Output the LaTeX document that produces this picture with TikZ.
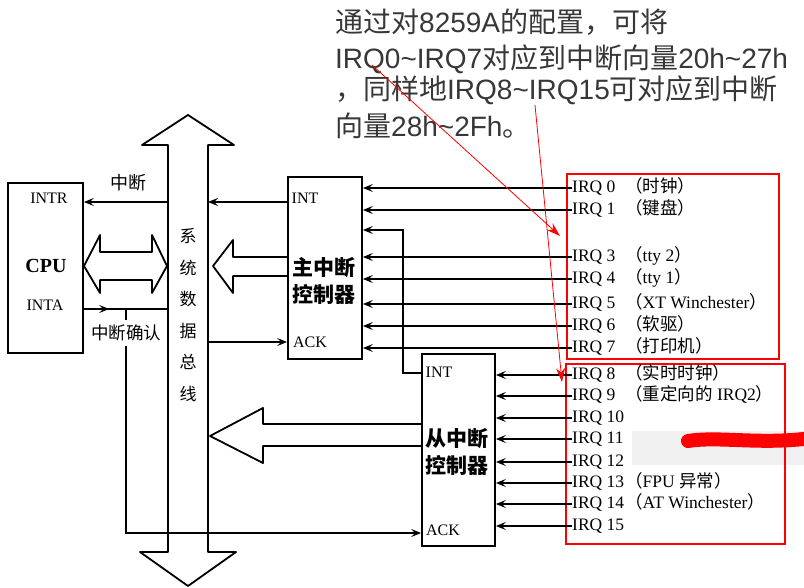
\documentclass[tikz,border=0pt]{standalone}
\usepackage{fontspec}
\usepackage{tikz}
\usepackage{tkz-euclide}
\usetikzlibrary{arrows.meta,decorations.markings}
\setmainfont{Liberation Serif}
\newfontfamily\cjk{Noto Sans CJK SC}
\newfontfamily\arial{Liberation Sans}
\definecolor{notegray}{RGB}{55,55,55}
\newcommand\zlp{{\cjk （}}
\newcommand\zrp{{\cjk ）}}

\begin{document}
\begin{tikzpicture}[x=1pt, y=-1pt,
    box/.style={draw, line width=1.8pt, inner sep=0pt},
    sig/.style={line width=1.2pt, -{Stealth[length=10pt,width=8pt,inset=4pt]}},
    wide/.style={line width=1.8pt},
    lab/.style={font=\fontsize{16}{16}\selectfont, inner sep=1pt},
    irq/.style={font=\fontsize{17.5}{17.5}\selectfont, inner sep=0pt, anchor=west},
    desc/.style={font=\fontsize{17.5}{17.5}\selectfont, inner sep=0pt, anchor=base west},
    hanzi/.style={font=\fontsize{#1}{#1}\cjk, inner sep=1pt},
    title/.style={font=\fontsize{21}{27}\cjk\bfseries, align=center, inner sep=0pt},
    note/.style={font=\fontsize{28}{28}\arial, text=notegray, inner sep=0pt, anchor=base west},
    redbox/.style={draw=red, line width=2pt},
    pointer/.style={red, line width=0.8pt, -{Stealth[length=14pt,width=9pt]}}]
    \useasboundingbox (0,0) rectangle (804,588);
    \clip (0,0) rectangle (804,588);
    \tkzDefPoint(188,115){B1}
    \tkzDefPoint(234,145){B2}
    \tkzDefPoint(208,145){B3}
    \tkzDefPoint(208,552){B4}
    \tkzDefPoint(236,552){B5}
    \tkzDefPoint(188,586){B6}
    \tkzDefPoint(140,552){B7}
    \tkzDefPoint(168,552){B8}
    \tkzDefPoint(168,145){B9}
    \tkzDefPoint(142,145){B10}
    \tkzDefPoint(84,266){C1}
    \tkzDefPoint(100,235){C2}
    \tkzDefPoint(100,252){C3}
    \tkzDefPoint(152,252){C4}
    \tkzDefPoint(152,235){C5}
    \tkzDefPoint(167,266){C6}
    \tkzDefPoint(152,293){C7}
    \tkzDefPoint(152,280){C8}
    \tkzDefPoint(100,280){C9}
    \tkzDefPoint(100,293){C10}
    \tkzDefPoint(213,266){M1}
    \tkzDefPoint(233,240){M2}
    \tkzDefPoint(233,257){M3}
    \tkzDefPoint(288,257){M4}
    \tkzDefPoint(288,276){M5}
    \tkzDefPoint(233,276){M6}
    \tkzDefPoint(233,293){M7}
    \tkzDefPoint(210,436){S1}
    \tkzDefPoint(263,408){S2}
    \tkzDefPoint(263,424){S3}
    \tkzDefPoint(422,424){S4}
    \tkzDefPoint(422,446){S5}
    \tkzDefPoint(263,446){S6}
    \tkzDefPoint(263,463){S7}
    \tkzDefPoint(168,202){intrB}
    \tkzDefPoint(168,309){intaB}
    \tkzDefPoint(126,309){ackT}
    \tkzDefPoint(126,533){ackS}
    \tkzDefPoint(208,202){mintB}
    \tkzDefPoint(208,342){mackB}
    \tkzDefPoint(403,373){bendA}
    \tkzDefPoint(403,230){bendB}
    \tkzDefPoint(625,0){dcol}
    \tkzDefPoint(372,65){P1}
    \tkzDefPoint(560,236){P2}
    \tkzDefPoint(535,105){P3}
    \tkzDefPoint(562,382){P4}
    \fill[gray!12] (632,431) rectangle (804,465);
    \draw[redbox] (567,174) rectangle (779,359);
    \draw[redbox] (566,364) rectangle (785,544);
    \tkzDrawPolygon[wide](B1,B2,B3,B4,B5,B6,B7,B8,B9,B10)
    \tkzDrawPolygon[wide](C1,C2,C3,C4,C5,C6,C7,C8,C9,C10)
    \tkzDrawPolygon[wide](M1,M2,M3,M4,M5,M6,M7)
    \tkzDrawPolygon[wide](S1,S2,S3,S4,S5,S6,S7)
    \node[box, minimum width=75pt, minimum height=170pt] (cpu) at (45.5,268) {};
    \node[box, minimum width=74pt, minimum height=182pt] (master) at (325,268) {};
    \node[box, minimum width=73pt, minimum height=192pt] (slave) at (458.5,450) {};
    \node[lab] (intr) at (49,198) {INTR};
    \node[lab, font=\fontsize{20}{20}\selectfont\bfseries] (cpuname) at (46,266) {CPU};
    \node[lab] (inta) at (45,305) {INTA};
    \node[lab] (mint) at (305,198) {INT};
    \node[lab] (mack) at (310,342) {ACK};
    \node[lab] (sint) at (439,372) {INT};
    \node[lab] (sack) at (443,530) {ACK};
    \node[title] (mtitle) at (324,281) {主中断\\控制器};
    \node[title] (stitle) at (457,452) {从中断\\控制器};
    \node[hanzi=17, align=center, font=\fontsize{17}{31.5}\cjk] (busname) at (188,315) {系\\统\\数\\据\\总\\线};
    \node[hanzi=18] (intl) at (128,183) {中断};
    \node[hanzi=17.5, inner sep=5pt] (ackl) at (126,333) {中断确认};
    \draw[sig] (intrB) -- (cpu.east |- intrB);
    \draw[line width=1.2pt, postaction={decorate}, decoration={markings,
        mark=at position 0.3 with {\arrow{Stealth[length=10pt,width=8pt,inset=4pt]}}}]
        (cpu.east |- intaB) -- (intaB);
    \draw[line width=1.2pt] (ackT) -- (ackl.north);
    \draw[sig] (ackl.south) -- (ackS) -- (slave.west |- ackS);
    \draw[sig] (master.west |- mintB) -- (mintB);
    \draw[sig] (mackB) -- (master.west |- mackB);
    \draw[sig] (slave.west |- bendA) -- (bendA) -- (bendB) -- (master.east |- bendB);
    \foreach \n/\y in {0/188,1/210,3/257,4/279,5/304,6/326,7/348}{
        \node[irq] (irq\n) at (572,\y) {IRQ \n};
        \draw[sig] (irq\n.west) -- (master.east |- irq\n.west);
    }
    \foreach \n/\y in {8/375,9/396,10/418,11/439,12/462,13/483,14/504,15/526}{
        \node[irq] (irq\n) at (572,\y) {IRQ \n};
        \draw[sig] (irq\n.west) -- (slave.east |- irq\n.west);
    }
    \foreach \n/\t in {0/{\cjk （时钟）},1/{\cjk （键盘）},3/\zlp tty 2\zrp,4/\zlp tty 1\zrp,
        5/\zlp XT Winchester\zrp,6/{\cjk （软驱）},7/{\cjk （打印机）},8/{\cjk （实时时钟）},
        9/\zlp{\cjk 重定向的} IRQ2\zrp,13/\zlp FPU {\cjk 异常}\zrp,14/\zlp AT Winchester\zrp}{
        \node[desc] (desc\n) at (dcol |- irq\n.base) {\t};
    }
    \node[note] (note1) at (335,33) {{\cjk 通过对}8259A{\cjk 的配置，可将}};
    \node[note] (note2) at (335,69) {IRQ0\string~IRQ7{\cjk 对应到中断向量}20h\string~27h};
    \node[note] (note3) at (335,100) {{\cjk ，同样地}IRQ8\string~IRQ15{\cjk 可对应到中断}};
    \node[note] (note4) at (335,137) {{\cjk 向量}28h\string~2Fh{\cjk 。}};
    \draw[pointer] (P1) -- (P2);
    \draw[pointer] (P3) -- (P4);
    \draw[red, line width=14pt, line cap=round] (688,441) .. controls (720,436) and (760,445) .. (812,438);
\end{tikzpicture}
\end{document}
